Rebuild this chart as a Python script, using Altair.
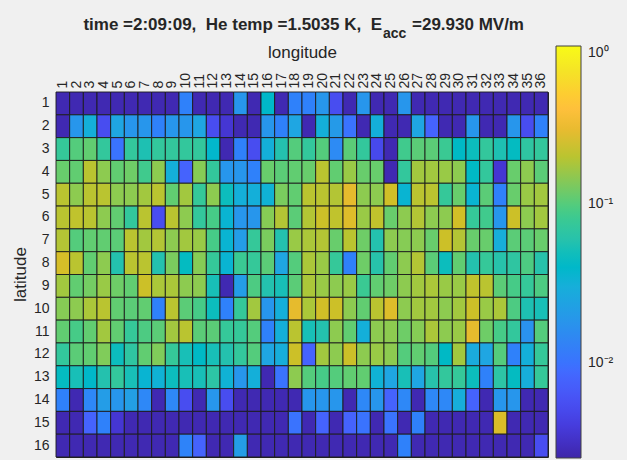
import altair as alt
import pandas as pd

# ---------------- data ----------------
longitude = list(range(1, 37))
latitude = list(range(1, 17))

lat_01 = [.0027, .0027, .0027, .0027, .0027, .0027, .0027, .0027, .0027,
          .0126, .0027, .0027, .0027, .018, .0027, .04, .0027, .0126,
          .0126, .018, .0054, .0027, .018, .0027, .0027, .018, .0027,
          .0027, .0027, .0027, .0027, .0027, .0027, .0027, .0027, .0027]
lat_02 = [.0027, .018, .031, .0054, .025, .018, .018, .0126, .018,
          .018, .025, .0054, .0036, .0027, .0027, .018, .0126, .025,
          .0027, .031, .02, .01, .0027, .031, .0027, .0027, .025,
          .0078, .0027, .0027, .018, .0027, .0027, .018, .0054, .0126]
lat_03 = [.075, .1, .11, .072, .01, .072, .055, .072, .072,
          .072, .072, .038, .0027, .0126, .0054, .031, .058, .1,
          .072, .1, .015, .105, .072, .005, .0027, .085, .105,
          .105, .08, .042, .048, .072, .055, .045, .068, .072]
lat_04 = [.115, .11, .2, .147, .11, .12, .085, .147, .031,
          .0078, .14, .072, .018, .018, .0126, .115, .105, .11,
          .115, .2, .11, .16, .115, .115, .0027, .072, .17,
          .17, .16, .147, .042, .072, .0036, .115, .147, .105]
lat_05 = [.2, .147, .2, .2, .147, .147, .17, .2, .11,
          .17, .075, .147, .048, .031, .031, .033, .13, .11,
          .2, .2, .19, .29, .147, .147, .24, .035, .2,
          .2, .075, .115, .035, .105, .0126, .115, .16, .17]
lat_06 = [.2, .21, .2, .147, .11, .072, .2, .0054, .2,
          .147, .072, .09, .035, .018, .018, .14, .19, .105,
          .19, .23, .21, .27, .16, .21, .115, .147, .19,
          .147, .147, .24, .075, .085, .018, .23, .147, .17]
lat_07 = [.19, .1, .11, .11, .105, .2, .17, .19, .147,
          .17, .16, .09, .035, .021, .075, .13, .058, .16,
          .18, .19, .115, .2, .12, .058, .147, .14, .147,
          .115, .23, .19, .115, .115, .03, .105, .105, .115]
lat_08 = [.25, .2, .11, .147, .058, .2, .2, .058, .13,
          .045, .14, .075, .035, .08, .075, .105, .025, .1,
          .18, .16, .075, .0126, .12, .06, .11, .147, .19,
          .105, .048, .11, .058, .075, .06, .068, .095, .06]
lat_09 = [.17, .11, .125, .16, .12, .11, .23, .18, .18,
          .147, .147, .052, .0027, .021, .095, .058, .052, .105,
          .18, .16, .147, .16, .08, .11, .12, .147, .17,
          .18, .16, .16, .21, .2, .105, .09, .075, .095]
lat_10 = [.14, .147, .18, .2, .11, .105, .11, .0126, .2,
          .105, .09, .048, .0126, .075, .17, .018, .031, .29,
          .18, .24, .23, .147, .11, .2, .27, .147, .17,
          .17, .147, .17, .23, .16, .18, .095, .055, .052]
lat_11 = [.11, .09, .11, .17, .11, .075, .095, .105, .17,
          .2, .105, .105, .075, .075, .1, .0126, .031, .2,
          .052, .058, .147, .11, .031, .147, .147, .12, .14,
          .18, .147, .16, .29, .12, .09, .072, .017, .1]
lat_12 = [.072, .105, .11, .135, .048, .068, .11, .135, .075,
          .052, .042, .052, .058, .072, .1, .025, .03, .23,
          .0078, .17, .147, .23, .147, .16, .147, .1, .11,
          .1, .042, .17, .028, .025, .1, .0126, .031, .075]
lat_13 = [.045, .052, .04, .058, .072, .052, .035, .033, .048,
          .052, .052, .065, .033, .018, .031, .0027, .01, .147,
          .1, .09, .1, .11, .11, .033, .025, .052, .025,
          .06, .072, .075, .048, .0126, .065, .045, .03, .075]
lat_14 = [.0126, .0027, .014, .021, .018, .022, .014, .0027, .014,
          .0054, .0027, .018, .0054, .0027, .0027, .0027, .0027, .0027,
          .018, .018, .018, .0027, .014, .018, .0078, .014, .0027,
          .014, .014, .03, .0078, .0027, .018, .018, .0027, .0027]
lat_15 = [.0027, .0027, .0078, .0126, .0036, .0027, .0027, .0027, .0027,
          .0027, .0027, .0027, .0027, .0027, .0027, .0027, .0027, .01,
          .0027, .0078, .0027, .0078, .01, .0027, .01, .0027, .0126,
          .0027, .0027, .0027, .0027, .0027, .26, .0027, .0027, .0027]
lat_16 = [.0027, .0027, .0027, .0027, .0027, .0027, .0027, .0027, .0027,
          .013, .0078, .0027, .0027, .021, .0027, .0027, .0027, .0027,
          .0027, .0027, .0027, .0027, .0027, .0027, .0027, .0126, .0027,
          .0027, .0027, .0027, .0027, .0027, .0027, .0027, .0027, .0054]

grid = [lat_01, lat_02, lat_03, lat_04, lat_05, lat_06, lat_07, lat_08,
        lat_09, lat_10, lat_11, lat_12, lat_13, lat_14, lat_15, lat_16]

cbar_ticks = [1, 0.1, 0.01]
cbar_domain = [0.0025, 1]

records = []
for lat, vals in zip(latitude, grid):
    for lon, v in zip(longitude, vals):
        records.append({"longitude": lon, "latitude": lat, "value": v})
df = pd.DataFrame(records)

# ---------------- style ----------------
PARULA = [
    (0.2422, 0.1504, 0.6603), (0.2504, 0.1650, 0.7076), (0.2578, 0.1818, 0.7511),
    (0.2647, 0.1978, 0.7952), (0.2706, 0.2147, 0.8364), (0.2751, 0.2342, 0.8710),
    (0.2783, 0.2559, 0.8991), (0.2803, 0.2782, 0.9221), (0.2813, 0.3006, 0.9414),
    (0.2810, 0.3228, 0.9579), (0.2795, 0.3447, 0.9717), (0.2760, 0.3667, 0.9829),
    (0.2699, 0.3892, 0.9906), (0.2602, 0.4123, 0.9952), (0.2440, 0.4358, 0.9988),
    (0.2206, 0.4603, 0.9973), (0.1963, 0.4847, 0.9892), (0.1834, 0.5074, 0.9798),
    (0.1786, 0.5289, 0.9682), (0.1764, 0.5499, 0.9520), (0.1687, 0.5703, 0.9359),
    (0.1540, 0.5902, 0.9218), (0.1460, 0.6091, 0.9079), (0.1380, 0.6276, 0.8973),
    (0.1248, 0.6459, 0.8883), (0.1113, 0.6635, 0.8763), (0.0952, 0.6798, 0.8598),
    (0.0689, 0.6948, 0.8394), (0.0297, 0.7082, 0.8163), (0.0036, 0.7203, 0.7917),
    (0.0067, 0.7312, 0.7660), (0.0433, 0.7411, 0.7394), (0.0964, 0.7500, 0.7120),
    (0.1408, 0.7584, 0.6842), (0.1717, 0.7670, 0.6554), (0.1938, 0.7758, 0.6251),
    (0.2161, 0.7843, 0.5923), (0.2470, 0.7918, 0.5567), (0.2906, 0.7973, 0.5188),
    (0.3406, 0.8008, 0.4789), (0.3909, 0.8029, 0.4354), (0.4456, 0.8024, 0.3909),
    (0.5044, 0.7993, 0.3480), (0.5616, 0.7942, 0.3045), (0.6174, 0.7876, 0.2612),
    (0.6720, 0.7793, 0.2227), (0.7242, 0.7698, 0.1910), (0.7738, 0.7598, 0.1646),
    (0.8203, 0.7498, 0.1535), (0.8634, 0.7406, 0.1596), (0.9035, 0.7330, 0.1774),
    (0.9393, 0.7288, 0.2100), (0.9728, 0.7298, 0.2394), (0.9956, 0.7434, 0.2371),
    (0.9970, 0.7659, 0.2199), (0.9952, 0.7893, 0.2028), (0.9892, 0.8136, 0.1885),
    (0.9786, 0.8386, 0.1766), (0.9676, 0.8639, 0.1643), (0.9610, 0.8890, 0.1537),
    (0.9597, 0.9135, 0.1423), (0.9628, 0.9373, 0.1265), (0.9691, 0.9606, 0.1064),
    (0.9769, 0.9839, 0.0805),
]
parula_hex = ["#%02x%02x%02x" % tuple(int(round(c * 255)) for c in rgb) for rgb in PARULA]

FONT = "Liberation Sans"
TXT = "#262626"

heat = alt.Chart(df).mark_rect(stroke="#1c1c1c", strokeWidth=1, strokeOpacity=0.9).encode(
    x=alt.X("longitude:O", sort=longitude,
            scale=alt.Scale(paddingInner=0, paddingOuter=0),
            axis=alt.Axis(orient="top", title="longitude", labelAngle=270, labelFontSize=14,
                          labelPadding=4, ticks=False, domain=False, labelColor=TXT,
                          titleColor=TXT, titleFontSize=17, titleFontWeight="normal",
                          titleX=246, titleY=-35, titleAlign="center",
                          titleBaseline="alphabetic")),
    y=alt.Y("latitude:O", sort=latitude,
            scale=alt.Scale(paddingInner=0, paddingOuter=0),
            axis=alt.Axis(title="latitude", labelFontSize=14, labelPadding=7, ticks=False,
                          domain=False, labelColor=TXT, titleColor=TXT, titleFontSize=17,
                          titleFontWeight="normal", titleAngle=270, titleX=-36, titleY=182,
                          titleAlign="center", titleBaseline="middle")),
    color=alt.Color("value:Q",
                    scale=alt.Scale(type="log", domain=cbar_domain, range=parula_hex,
                                    clamp=True, nice=False),
                    legend=alt.Legend(orient="none", legendX=500, legendY=-46,
                                      direction="vertical", gradientLength=412,
                                      gradientThickness=25, values=cbar_ticks,
                                      labelExpr="datum.value >= 0.5 ? '10\u2070' : datum.value >= 0.05 ? '10\u207b\u00b9' : '10\u207b\u00b2'",
                                      title=None, labelFontSize=14, labelOffset=7,
                                      labelColor=TXT, gradientStrokeColor="#404040",
                                      gradientStrokeWidth=1)),
)

one = pd.DataFrame({"k": [0]})
title_main = alt.Chart(one).mark_text(
    text="time =2:09:09,\u00a0 He temp =1.5035 K,\u00a0 E", align="right", baseline="alphabetic",
    fontSize=17, fontWeight="bold", font=FONT, color=TXT,
).encode(x=alt.value(326), y=alt.value(-62))
title_sub = alt.Chart(one).mark_text(
    text="acc", align="left", baseline="alphabetic",
    fontSize=14, fontWeight="bold", font=FONT, color=TXT,
).encode(x=alt.value(327), y=alt.value(-54.5))
title_end = alt.Chart(one).mark_text(
    text="=29.930 MV/m", align="left", baseline="alphabetic",
    fontSize=17, fontWeight="bold", font=FONT, color=TXT,
).encode(x=alt.value(356), y=alt.value(-62))

chart = alt.layer(heat, title_main, title_sub, title_end).properties(
    width=492, height=365,
    autosize=alt.AutoSizeParams(type="none"),
    padding={"left": 56, "top": 92, "right": 79, "bottom": 3},
).configure(
    background="#f0f0f0", font=FONT,
).configure_view(
    stroke="#262626", strokeWidth=1,
).configure_axis(
    labelFont=FONT, titleFont=FONT,
).configure_legend(
    labelFont=FONT, padding=0,
)

chart.save("out.html", embed_options={"renderer": "svg", "actions": False})
